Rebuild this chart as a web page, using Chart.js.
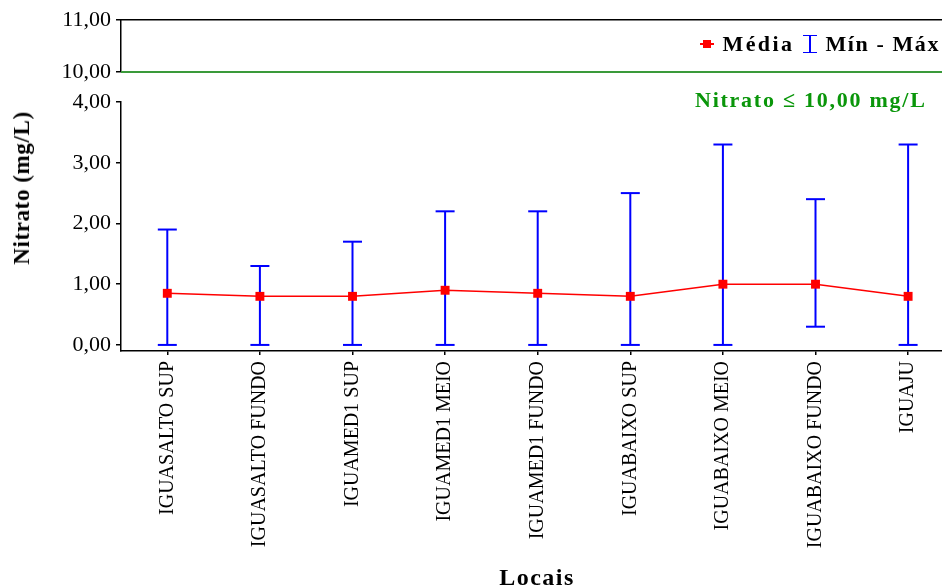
<!DOCTYPE html>
<html lang="pt-BR">
<head>
<meta charset="utf-8">
<title>Nitrato por local</title>
<script src="https://cdn.jsdelivr.net/npm/chart.js@4/dist/chart.umd.min.js"></script>
<style>
  html, body { margin: 0; padding: 0; background: #fff; }
  #wrap { position: relative; width: 942px; height: 587px; overflow: hidden; font-family: "Liberation Serif", "Times New Roman", serif; }
  #wrap canvas { position: absolute; left: 0; top: 0; }
  .txt { position: absolute; white-space: nowrap; font-weight: bold; color: #000; }
  #ytitle { left: 22px; top: 188px; font-size: 23px; letter-spacing: 0.6px; transform: translate(-50%, -50%) rotate(-90deg); }
  #xtitle { left: 537px; top: 577px; font-size: 24px; letter-spacing: 1.5px; transform: translate(-50%, -50%); }
  #legend { right: 2px; top: 31px; font-size: 22px; display: flex; align-items: center; }
  #legend .t1 { letter-spacing: 2.4px; }
  #legend .t2 { letter-spacing: 1.6px; }
  #legend .mk-mean { position: relative; width: 14px; height: 14px; margin-right: 9px; }
  #legend .mk-mean::before { content: ""; position: absolute; left: 0; right: 0; top: 6px; height: 2px; background: #f00; }
  #legend .mk-mean::after { content: ""; position: absolute; left: 3px; top: 3px; width: 8px; height: 8px; background: #f00; }
  #legend .mk-range { position: relative; width: 14px; height: 18px; margin: 0 8px 0 9px; }
  #legend .mk-range::before { content: ""; position: absolute; left: 6px; top: 0; bottom: 0; width: 1.5px; background: #00f; }
  #legend .mk-range::after { content: ""; position: absolute; left: 0; right: 0; top: 0; bottom: 0; border-top: 1.5px solid #00f; border-bottom: 1.5px solid #00f; }
  #limite { left: 695px; top: 87px; font-size: 22px; letter-spacing: 1.75px; color: #0a960a; }
</style>
</head>
<body>
<div id="wrap">
  <canvas id="cTop" width="942" height="587"></canvas>
  <canvas id="cMain" width="942" height="587"></canvas>
  <div class="txt" id="ytitle">Nitrato (mg/L)</div>
  <div class="txt" id="xtitle">Locais</div>
  <div class="txt" id="legend"><span class="mk-mean"></span><span class="t1">Média</span><span class="mk-range"></span><span class="t2">Mín - Máx</span></div>
  <div class="txt" id="limite">Nitrato ≤ 10,00 mg/L</div>
</div>
<script>
// Pontos de coleta
const locais = [
  'IGUASALTO SUP', 'IGUASALTO FUNDO', 'IGUAMED1 SUP', 'IGUAMED1 MEIO',
  'IGUAMED1 FUNDO', 'IGUABAIXO SUP', 'IGUABAIXO MEIO', 'IGUABAIXO FUNDO', 'IGUAJU'
];
// Nitrato (mg/L): média, mínimo e máximo por local
const media  = [0.85, 0.80, 0.80, 0.90, 0.85, 0.80, 1.00, 1.00, 0.80];
const minimo = [0.00, 0.00, 0.00, 0.00, 0.00, 0.00, 0.00, 0.30, 0.00];
const maximo = [1.90, 1.30, 1.70, 2.20, 2.20, 2.50, 3.30, 2.40, 3.30];
// Limite de nitrato (mg/L)
const limiteNitrato = 10.0;
// Marcas dos eixos
const ticksInferior = [0, 1, 2, 3, 4];
const ticksSuperior = [10, 11];

const SERIF = '"Liberation Serif", "Times New Roman", serif';
const X_MIN = -0.5, X_MAX = 8.366;
const fmt = v => v.toFixed(2).replace('.', ',');

// Barras verticais mín–máx (segmentos separados por lacunas)
const barras = [];
locais.forEach((_, i) => {
  barras.push({ x: i, y: minimo[i] }, { x: i, y: maximo[i] }, { x: i, y: null });
});
const capas = [];
locais.forEach((_, i) => {
  capas.push({ x: i, y: minimo[i] }, { x: i, y: maximo[i] });
});

const yAxisBase = {
  type: 'linear',
  afterFit: s => { s.width = 121; },
  border: { display: true, color: '#000', width: 1.5 },
  grid: { drawOnChartArea: false, drawTicks: true, tickLength: 5, color: '#000', lineWidth: 1.5 },
  ticks: { color: '#000', font: { family: SERIF, size: 22 }, padding: 5, callback: v => fmt(v) }
};

// Eixo x ocupa toda a largura à direita do eixo y
const fitX = h => s => {
  s.height = h;
  s.paddingLeft = 0;
  s.paddingRight = 0;
};

// Painel inferior: 0 a 4 mg/L
new Chart(document.getElementById('cMain'), {
  type: 'scatter',
  data: {
    datasets: [
      {
        label: 'Média',
        data: media.map((v, i) => ({ x: i, y: v })),
        showLine: true,
        borderColor: '#ff0000',
        borderWidth: 1.5,
        backgroundColor: '#ff0000',
        pointStyle: 'rect',
        pointRadius: 6.3,
        pointBorderWidth: 0,
        tension: 0
      },
      {
        label: 'Mín - Máx',
        data: capas,
        showLine: false,
        pointStyle: 'line',
        pointRadius: 9.5,
        pointBorderColor: '#0000ff',
        pointBorderWidth: 2,
        clip: false
      },
      {
        label: 'barras',
        data: barras,
        showLine: true,
        spanGaps: false,
        borderColor: '#0000ff',
        borderWidth: 2,
        pointRadius: 0,
        clip: false
      }
    ]
  },
  options: {
    responsive: false,
    animation: false,
    devicePixelRatio: 1,
    events: [],
    layout: { autoPadding: false, padding: { top: 102, left: 0, right: 0, bottom: 0 } },
    plugins: { legend: { display: false }, tooltip: { enabled: false } },
    scales: {
      x: {
        type: 'linear',
        min: X_MIN,
        max: X_MAX,
        afterFit: fitX(236),
        afterBuildTicks: s => { s.ticks = locais.map((_, i) => ({ value: i })); },
        border: { display: true, color: '#000', width: 1.5 },
        grid: { drawOnChartArea: false, drawTicks: true, tickLength: 4, color: '#000', lineWidth: 1.5 },
        ticks: {
          color: '#000',
          font: { family: SERIF, size: 20 },
          minRotation: 90,
          maxRotation: 90,
          autoSkip: false,
          padding: 6,
          callback: v => locais[v]
        }
      },
      y: Object.assign({}, yAxisBase, {
        min: -0.1,
        max: 4,
        afterBuildTicks: s => { s.ticks = ticksInferior.map(v => ({ value: v })); }
      })
    }
  }
});

// Painel superior: 10 a 11 mg/L, com a linha do limite
new Chart(document.getElementById('cTop'), {
  type: 'scatter',
  data: {
    datasets: [
      {
        label: 'Limite',
        data: [{ x: X_MIN, y: limiteNitrato }, { x: X_MAX, y: limiteNitrato }],
        showLine: true,
        borderColor: '#3a9a3a',
        borderWidth: 2,
        pointRadius: 0,
        clip: false
      }
    ]
  },
  options: {
    responsive: false,
    animation: false,
    devicePixelRatio: 1,
    events: [],
    layout: { autoPadding: false, padding: { top: 20, left: 0, right: 0, bottom: 515 } },
    plugins: { legend: { display: false }, tooltip: { enabled: false } },
    scales: {
      x: {
        type: 'linear',
        position: 'top',
        min: X_MIN,
        max: X_MAX,
        afterFit: fitX(0),
        border: { display: true, color: '#000', width: 1.5 },
        grid: { display: false, drawTicks: false },
        ticks: { display: false }
      },
      y: Object.assign({}, yAxisBase, {
        min: 10,
        max: 11,
        afterBuildTicks: s => { s.ticks = ticksSuperior.map(v => ({ value: v })); }
      })
    }
  }
});
</script>
</body>
</html>
